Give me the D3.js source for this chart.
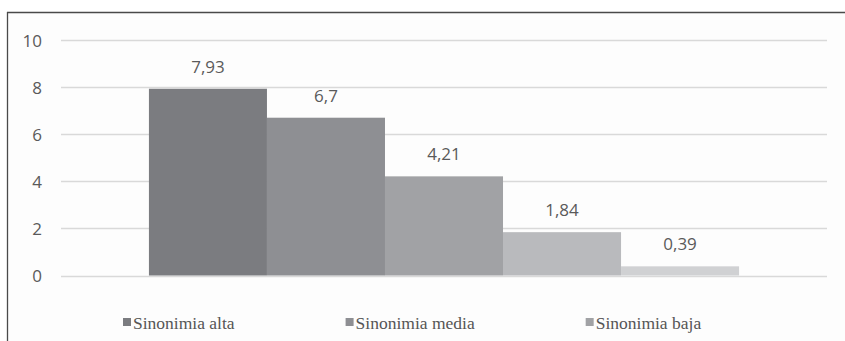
<!DOCTYPE html>
<html>
<head>
<meta charset="utf-8">
<script src="https://cdn.jsdelivr.net/npm/d3@7"></script>
<style>
  html, body { margin: 0; padding: 0; background: #ffffff; }
  svg { display: block; }
  .legend-text { font-family: "Liberation Serif", "DejaVu Serif", serif; }
  .num { font-family: "Open Sans", sans-serif; }
</style>
</head>
<body>
<svg id="chart" width="845" height="341"></svg>
<script>
// ---- data ----
const seriesNames = ["Sinonimia alta", "Sinonimia media", "Sinonimia baja", "Sinonimia muy baja", "Sin sinonimia"];
const seriesValues = [7.93, 6.7, 4.21, 1.84, 0.39];
const seriesColors = ["#7b7c80", "#8e8f93", "#a1a2a5", "#b9babd", "#d0d1d3"];
const legendNames = ["Sinonimia alta", "Sinonimia media", "Sinonimia baja"];
const yTicks = [0, 2, 4, 6, 8, 10];

// ---- layout ----
const W = 845, H = 341;
const plot = { left: 61, right: 827, top: 40, bottom: 275.5 };
const svg = d3.select("#chart");

// background + frame
svg.append("rect").attr("x", 0).attr("y", 0).attr("width", W).attr("height", H).attr("fill", "#ffffff");
svg.append("rect").attr("x", 7).attr("y", 12).attr("width", W - 7).attr("height", H - 12).attr("fill", "#fdfdfd");
svg.append("line").attr("x1", 7).attr("x2", W).attr("y1", 12.5).attr("y2", 12.5)
  .attr("stroke", "#4a4a4a").attr("stroke-width", 1.3);
svg.append("line").attr("x1", 7.5).attr("x2", 7.5).attr("y1", 12).attr("y2", H)
  .attr("stroke", "#4a4a4a").attr("stroke-width", 1.3);

// scales
const outer = d3.scaleBand().domain(["grupo"]).range([plot.left, plot.right])
  .paddingInner(0).paddingOuter(0.149);
const x = d3.scaleBand().domain(seriesNames)
  .range([outer("grupo"), outer("grupo") + outer.bandwidth()]).padding(0);
const y = d3.scaleLinear().domain([0, 10]).range([plot.bottom, plot.top]);

// gridlines
svg.append("g").selectAll("line").data(yTicks).join("line")
  .attr("x1", plot.left).attr("x2", plot.right)
  .attr("y1", d => Math.round(y(d)) + 0.5).attr("y2", d => Math.round(y(d)) + 0.5)
  .attr("stroke", "#d9d9d9").attr("stroke-width", 1.3);

// y axis labels
const yAxis = d3.axisLeft(y).tickValues(yTicks).tickSize(0).tickPadding(0).tickFormat(d => String(d));
const yg = svg.append("g").attr("transform", `translate(${42},0)`).call(yAxis);
yg.select(".domain").remove();
yg.attr("font-family", null).attr("font-size", null);
yg.selectAll("text")
  .attr("class", "num")
  .style("font-size", "17px")
  .attr("fill", "#5a5a5a")
  .attr("dy", "0.36em");

// bars
svg.append("g").selectAll("rect").data(seriesValues).join("rect")
  .attr("x", (d, i) => x(seriesNames[i]))
  .attr("width", x.bandwidth())
  .attr("y", d => y(d))
  .attr("height", d => y(0) - y(d))
  .attr("fill", (d, i) => seriesColors[i]);

// value labels
const fmt = v => String(v).replace(".", ",");
svg.append("g").selectAll("text").data(seriesValues).join("text")
  .attr("class", "num")
  .attr("x", (d, i) => x(seriesNames[i]) + x.bandwidth() / 2)
  .attr("y", d => y(d) - 16)
  .attr("text-anchor", "middle")
  .style("font-size", "17px")
  .attr("fill", "#5a5a5a")
  .text(fmt);

// legend
const lg = svg.append("g");
let lx = 123;
legendNames.forEach((name, i) => {
  lg.append("rect").attr("x", lx).attr("y", 318).attr("width", 8).attr("height", 8)
    .attr("fill", seriesColors[i]);
  const t = lg.append("text").attr("class", "legend-text")
    .attr("x", lx + 10).attr("y", 329)
    .style("font-size", "17.5px")
    .attr("fill", "#555555")
    .text(name);
  lx = lx + 10 + t.node().getComputedTextLength() + 111;
});
</script>
</body>
</html>
